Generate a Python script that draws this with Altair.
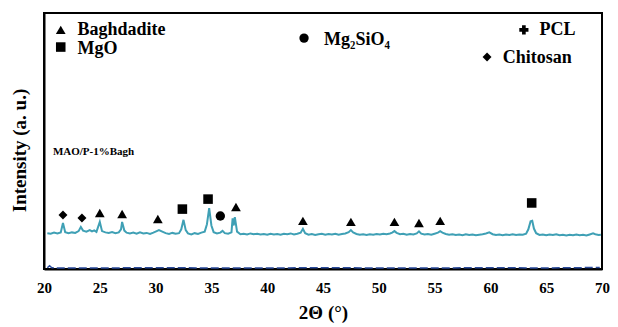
import altair as alt
import pandas as pd

# main XRD pattern (2theta, intensity a.u.)
two_theta = [20.3,20.6,20.9,21.2,21.5,21.7,21.9,22.2,22.5,22.8,23.1,23.3,23.5,23.8,24.1,24.3,24.5,24.7,25.0,25.2,
             25.5,25.8,26.1,26.4,26.7,26.9,27.0,27.2,27.4,27.7,28.0,28.3,28.6,28.9,29.2,29.5,29.8,30.1,30.3,30.6,
             30.9,31.2,31.5,31.8,32.1,32.3,32.5,32.7,32.9,33.2,33.5,33.8,34.1,34.4,34.6,34.8,35.0,35.2,35.5,35.8,
             36.0,36.2,36.5,36.8,36.9,37.0,37.1,37.3,37.6,37.9,38.2,38.5,38.8,39.1,39.4,39.7,40.0,40.3,40.6,40.9,
             41.2,41.5,41.8,42.1,42.4,42.7,43.0,43.2,43.4,43.7,44.0,44.3,44.6,44.9,45.2,45.5,45.8,46.1,46.4,46.7,
             47.0,47.3,47.5,47.7,48.0,48.3,48.6,48.9,49.2,49.5,49.8,50.1,50.4,50.7,51.0,51.2,51.4,51.6,51.9,52.2,
             52.5,52.8,53.1,53.4,53.6,53.8,54.1,54.4,54.7,55.0,55.3,55.5,55.7,56.0,56.3,56.6,56.9,57.2,57.5,57.8,
             58.1,58.4,58.7,59.0,59.3,59.6,59.9,60.2,60.5,60.8,61.1,61.4,61.7,62.0,62.3,62.6,62.9,63.2,63.4,63.6,
             63.75,63.9,64.1,64.4,64.7,65.0,65.3,65.6,65.9,66.2,66.5,66.8,67.1,67.4,67.7,68.0,68.3,68.6,68.9,69.2,
             69.4,69.7,69.9]
intensity = [14.0,13.8,14.2,13.9,14.3,18.0,14.4,14.0,14.3,14.1,14.8,16.4,15.0,14.6,15.2,14.7,15.1,14.5,18.4,14.8,
             14.3,14.1,14.4,14.0,14.3,15.5,18.4,15.0,14.2,13.9,14.2,13.8,14.3,13.9,14.1,13.7,14.2,14.8,15.2,14.6,
             14.0,13.7,14.1,13.8,14.0,15.5,19.2,15.2,13.9,13.5,14.0,13.7,14.2,14.6,17.5,23.8,17.0,14.4,13.9,14.2,
             14.9,14.0,13.8,14.3,19.8,17.0,20.3,14.6,13.6,13.8,13.5,13.9,13.6,13.8,13.5,13.7,13.4,13.8,13.5,13.7,
             13.4,13.8,13.6,13.9,13.5,13.8,14.2,15.7,14.0,13.4,13.7,13.3,13.6,13.8,13.4,13.7,13.5,13.8,13.4,13.7,
             13.9,14.4,15.2,14.3,13.7,13.4,13.6,13.3,13.6,13.4,13.7,13.5,13.8,13.6,13.9,14.2,14.8,14.1,13.6,13.8,
             13.4,13.7,13.5,13.9,14.7,13.8,13.5,13.7,13.4,13.8,14.2,14.8,14.2,13.7,13.4,13.6,13.3,13.5,13.2,13.6,
             13.3,13.5,13.2,13.4,13.6,13.9,14.3,13.6,13.3,13.5,13.2,13.5,13.3,13.6,13.3,13.5,13.4,13.8,15.5,18.6,
             18.8,15.8,14.0,13.3,13.5,13.2,13.5,13.3,13.6,13.2,13.4,13.1,13.4,13.2,13.5,13.2,13.4,13.1,13.5,13.9,
             13.6,13.3,13.4]

# faint lower trace
low_x = [20.3, 20.5, 20.7, 21.0, 25.0, 30.0, 35.0, 40.0, 45.0, 50.0, 55.0, 60.0, 65.0, 69.8]
low_y = [0.5, 1.3, 0.5, 0.4, 0.4, 0.5, 0.4, 0.4, 0.5, 0.4, 0.4, 0.5, 0.4, 0.6]

# phase markers above peaks
mark_x = [21.7, 23.4, 25.0, 27.0, 30.2, 32.4, 34.7, 35.8, 37.2, 43.2, 47.5, 51.4, 53.6, 55.5, 63.7]
mark_y = [21.1, 19.9, 21.9, 21.5, 19.5, 23.4, 27.3, 20.7, 24.2, 18.8, 18.4, 18.4, 18.0, 18.8, 25.8]
mark_phase = ["Chitosan", "Chitosan", "Baghdadite", "Baghdadite", "Baghdadite", "MgO", "MgO", "Mg2SiO4",
              "Baghdadite", "Baghdadite", "Baghdadite", "Baghdadite", "Baghdadite", "Baghdadite", "MgO"]

# legend annotations
leg_phase = ["Baghdadite", "MgO", "Mg2SiO4", "PCL", "Chitosan"]
leg_label = ["Baghdadite", "MgO", "Mg\u2082SiO\u2084", "PCL", "Chitosan"]
leg_x = [21.5, 21.5, 43.3, 63.0, 59.7]
leg_y = [93.4, 86.7, 90.2, 93.4, 82.8]
leg_ty = [93.2, 85.9, 89.6, 93.2, 82.6]
leg_tx = [23.0, 23.0, 45.1, 64.4, 61.1]

sample_label = ["MAO/P-1%Bagh"]
sample_x = [20.8]
sample_y = [45.7]

phases = ["Baghdadite", "MgO", "Mg2SiO4", "PCL", "Chitosan"]
shapes = ["triangle-up", "square", "circle", "cross", "diamond"]
sizes = [95, 80, 70, 60, 55]

FONT = "Liberation Serif, Times New Roman, DejaVu Serif, serif"

xs = alt.Scale(domain=[20, 70], nice=False)
ys = alt.Scale(domain=[0, 100], nice=False)

df = pd.DataFrame({"x": two_theta, "y": intensity})
dlow = pd.DataFrame({"x": low_x, "y": low_y})
dm = pd.DataFrame({"x": mark_x, "y": mark_y, "phase": mark_phase})
dl = pd.DataFrame({"x": leg_x, "y": leg_y, "tx": leg_tx, "ty": leg_ty, "phase": leg_phase, "label": leg_label})
ds = pd.DataFrame({"x": sample_x, "y": sample_y, "label": sample_label})

shape_enc = alt.Shape("phase:N", scale=alt.Scale(domain=phases, range=shapes), legend=None)
size_enc = alt.Size("phase:N", scale=alt.Scale(domain=phases, range=sizes), legend=None)

xaxis = alt.Axis(values=list(range(20, 71, 5)), title="2\u0398 (\u00b0)", grid=False, ticks=False,
                 labelFlush=False, labelPadding=11, labelFont=FONT, labelFontSize=15,
                 labelFontWeight="bold", labelColor="black", titleFont=FONT, titleFontSize=19,
                 titleFontWeight="bold", titleColor="black", titlePadding=8, domainColor="black",
                 domainWidth=2)
yaxis = alt.Axis(labels=False, ticks=False, grid=False, title="Intensity (a. u.)", titleFont=FONT,
                 titleFontSize=19, titleFontWeight="bold", titleColor="black", titlePadding=15,
                 titleY=137, domainColor="black", domainWidth=2)

line = alt.Chart(df).mark_line(color="#3fa0b5", strokeWidth=2).encode(
    x=alt.X("x:Q", scale=xs, axis=xaxis),
    y=alt.Y("y:Q", scale=ys, axis=yaxis),
)
low = alt.Chart(dlow).mark_line(color="#2a4a9a", strokeWidth=1.5, strokeDash=[8, 3]).encode(
    x=alt.X("x:Q", scale=xs), y=alt.Y("y:Q", scale=ys)
)
markers = alt.Chart(dm).mark_point(filled=True, color="black", opacity=1).encode(
    x=alt.X("x:Q", scale=xs), y=alt.Y("y:Q", scale=ys), shape=shape_enc, size=size_enc
)
leg_pts = alt.Chart(dl).mark_point(filled=True, color="black", opacity=1).encode(
    x=alt.X("x:Q", scale=xs), y=alt.Y("y:Q", scale=ys), shape=shape_enc, size=size_enc
)
leg_txt = alt.Chart(dl).mark_text(align="left", baseline="middle", font=FONT, fontSize=18,
                                  fontWeight="bold", color="black").encode(
    x=alt.X("tx:Q", scale=xs), y=alt.Y("ty:Q", scale=ys), text="label:N"
)
sample = alt.Chart(ds).mark_text(align="left", baseline="middle", font=FONT, fontSize=11,
                                 fontWeight="bold", color="black").encode(
    x=alt.X("x:Q", scale=xs), y=alt.Y("y:Q", scale=ys), text="label:N"
)

chart = (line + low + markers + leg_pts + leg_txt + sample).properties(
    width=558, height=256,
    autosize=alt.AutoSizeParams(type="none"),
    padding={"left": 36, "top": 5, "right": 8, "bottom": 56},
    background="white",
).configure_view(stroke="black", strokeWidth=2)

chart.save("out.html", embed_options={"renderer": "svg", "actions": False})
